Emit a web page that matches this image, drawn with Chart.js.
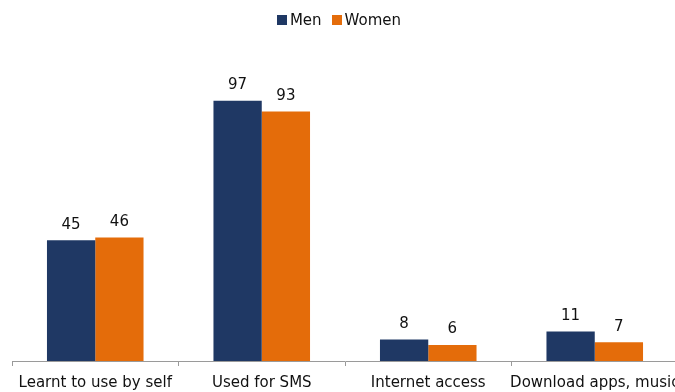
<!DOCTYPE html>
<html><head><meta charset="utf-8">
<script src="https://cdn.jsdelivr.net/npm/chart.js@4"></script>
<style>
html,body{margin:0;padding:0;overflow:hidden;background:#fff;width:675px;height:392px}
#wrap{position:absolute;left:0;top:0;width:760px;height:392px}
#legend{position:absolute;top:11px;left:0;width:678px;text-align:center;font-family:"DejaVu Sans",sans-serif;font-size:15px;color:#111;white-space:nowrap}
#legend span.box{display:inline-block;width:10px;height:10px;margin-right:3px;vertical-align:0px}
#legend span.item{margin:0 5px}
</style></head>
<body>
<div id="wrap"><canvas id="c" width="760" height="392"></canvas></div>
<div id="legend"></div>
<script>
const categories = ["Learnt to use by self", "Used for SMS", "Internet access", "Download apps, music"];
const seriesNames = ["Men", "Women"];
const menValues = [45, 97, 8, 11];
const womenValues = [46, 93, 6, 7];
const colors = ["#1f3864", "#e46c0a"];

const FONT = '"DejaVu Sans", sans-serif';

document.getElementById('legend').innerHTML = seriesNames.map((n,i)=>
  '<span class="item"><span class="box" style="background:'+colors[i]+'"></span>'+n+'</span>').join('');

const valueLabels = {
  id: 'valueLabels',
  afterDatasetsDraw(chart) {
    const ctx = chart.ctx;
    ctx.save();
    ctx.font = '15px ' + FONT;
    ctx.fillStyle = '#111';
    ctx.textAlign = 'center';
    ctx.textBaseline = 'bottom';
    chart.data.datasets.forEach((ds, di) => {
      chart.getDatasetMeta(di).data.forEach((el, i) => {
        ctx.fillText(String(ds.data[i]), el.x, el.y - 8);
      });
    });
    ctx.restore();
  }
};

new Chart(document.getElementById('c'), {
  type: 'bar',
  data: {
    labels: categories,
    datasets: [
      { label: seriesNames[0], data: menValues, backgroundColor: colors[0] },
      { label: seriesNames[1], data: womenValues, backgroundColor: colors[1] }
    ]
  },
  options: {
    responsive: false,
    animation: false,
    devicePixelRatio: 1,
    layout: { padding: { left: 12, right: 82, top: 39, bottom: 0 } },
    plugins: { legend: { display: false }, tooltip: { enabled: false } },
    datasets: { bar: { categoryPercentage: 0.58, barPercentage: 1.0 } },
    scales: {
      x: {
        grid: { display: true, drawOnChartArea: false, drawTicks: true, tickLength: 5, offset: true, color: '#9a9a9a' },
        border: { display: true, color: '#9a9a9a' },
        ticks: { font: { family: FONT, size: 15 }, color: '#111', padding: 8, maxRotation: 0, autoSkip: false },
        afterFit(scale) { scale.height = 31; }
      },
      y: { display: false, min: 0, max: 120 }
    }
  },
  plugins: [valueLabels]
});
</script>
</body></html>
